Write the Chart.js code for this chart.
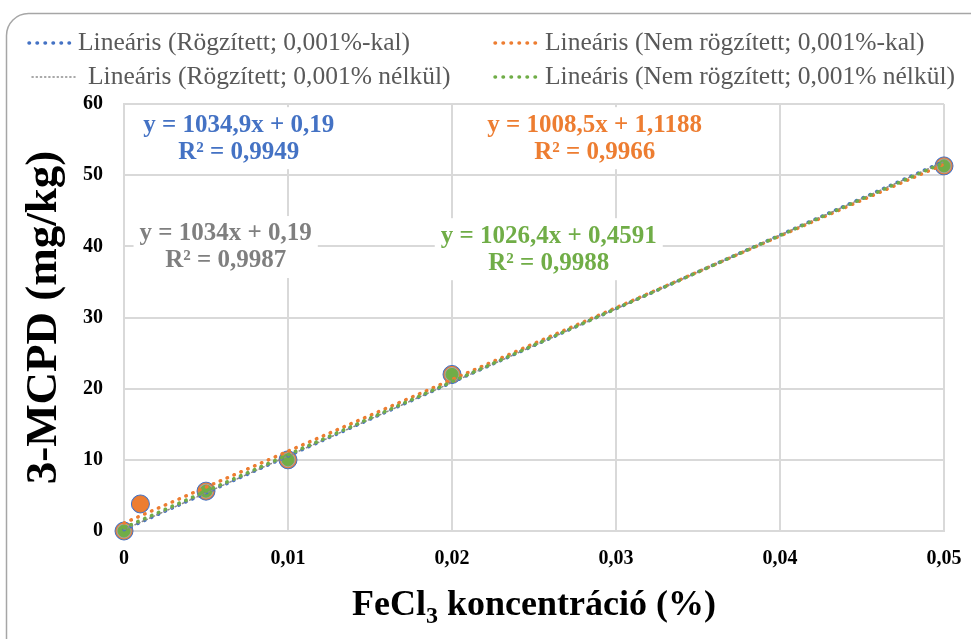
<!DOCTYPE html>
<html>
<head>
<meta charset="utf-8">
<script src="https://cdn.jsdelivr.net/npm/chart.js@4.4.1/dist/chart.umd.min.js"></script>
<style>
  html, body { margin: 0; padding: 0; background: #fff; }
  #wrap { width: 971px; height: 639px; position: relative; }
</style>
</head>
<body>
<div id="wrap"><canvas id="myChart" width="971" height="639"></canvas></div>
<script>
// measured points (FeCl3 %, 3-MCPD mg/kg)
var xWith = [0, 0.001, 0.005, 0.01, 0.02, 0.05];
var yWith = [0.0, 3.8, 5.6, 10.0, 22.0, 51.3];
var xWithout = [0, 0.005, 0.01, 0.02, 0.05];
var yWithout = [0.0, 5.6, 10.0, 22.0, 51.3];

// trendlines
var trendNames = [
  "Lineáris (Rögzített; 0,001%-kal)",
  "Lineáris (Nem rögzített; 0,001%-kal)",
  "Lineáris (Rögzített; 0,001% nélkül)",
  "Lineáris (Nem rögzített; 0,001% nélkül)"
];
var slopes = [1034.9, 1008.5, 1034, 1026.4];
var intercepts = [0.19, 1.1188, 0.19, 0.4591];
var rSquared = ["0,9949", "0,9966", "0,9987", "0,9988"];
var trendColors = ["#4472c4", "#ed7d31", "#8c8c8c", "#70ad47"];
var textColors = ["#4472c4", "#ed7d31", "#7f7f7f", "#70ad47"];

var xTicks = [0, 0.01, 0.02, 0.03, 0.04, 0.05];
var yTicks = [0, 10, 20, 30, 40, 50, 60];

// where each equation box sits, in axis units
var labelPos = [
  {x: 0.0070, y: 55.2},
  {x: 0.0287, y: 55.2},
  {x: 0.0062, y: 39.9},
  {x: 0.0259, y: 39.6}
];

function fmt(v) {
  if (v === 0) return "0";
  return v.toFixed(2).replace(".", ",");
}
function eqText(i) {
  var s = String(slopes[i]).replace(".", ",");
  var b = String(intercepts[i]).replace(".", ",");
  return "y = " + s + "x + " + b;
}
function pts(xs, ys) {
  return xs.map(function (x, i) { return {x: x, y: ys[i]}; });
}
function trend(i) {
  var x0 = xTicks[0], x1 = xTicks[xTicks.length - 1];
  return [{x: x0, y: slopes[i] * x0 + intercepts[i]}, {x: x1, y: slopes[i] * x1 + intercepts[i]}];
}

var serif = "'Liberation Serif', 'Times New Roman', serif";

var trendStyle = [
  {w: 3.5, dash: [0.5, 7]},
  {w: 3.5, dash: [0.5, 7]},
  {w: 1.5, dash: [1.5, 2.5]},
  {w: 3.5, dash: [0.5, 7]}
];

var datasets = [];
// trendlines on top, green first
[3, 2, 1, 0].forEach(function (i, k) {
  datasets.push({
    label: trendNames[i],
    data: trend(i),
    showLine: true,
    borderColor: trendColors[i],
    borderWidth: trendStyle[i].w,
    borderDash: trendStyle[i].dash,
    borderCapStyle: "round",
    pointRadius: 0,
    clip: false,
    order: k
  });
});
// markers
var markerDefs = [
  {data: pts(xWith, yWith), r: 9, color: "#4472c4", order: 7},
  {data: pts(xWith, yWith), r: 8, color: "#ed7d31", order: 6},
  {data: pts(xWithout, yWithout), r: 7, color: "#a5a5a5", order: 5},
  {data: pts(xWithout, yWithout), r: 6, color: "#70ad47", order: 4}
];
markerDefs.forEach(function (m) {
  datasets.push({
    data: m.data,
    showLine: false,
    pointRadius: m.r,
    pointBackgroundColor: m.color,
    pointBorderColor: m.color,
    pointBorderWidth: 1,
    clip: false,
    order: m.order
  });
});

var decorPlugin = {
  id: "decor",
  beforeDraw: function (chart) {
    var ctx = chart.ctx;
    ctx.save();
    ctx.fillStyle = "#fff";
    ctx.fillRect(0, 0, chart.width, chart.height);
    ctx.strokeStyle = "#a6a6a6";
    ctx.lineWidth = 1.5;
    ctx.beginPath();
    ctx.roundRect(6.5, 13.5, 990, 660, 22);
    ctx.stroke();
    ctx.restore();
  },
  afterDraw: function (chart) {
    var ctx = chart.ctx;
    var xs = chart.scales.x, ys = chart.scales.y;
    ctx.save();

    // legend, two columns
    var samples = [[27, 72], [493, 540], [30, 75], [493, 540]];
    var textX = [78, 545, 88, 545];
    var rows = [43, 77];
    for (var i = 0; i < 4; i++) {
      var ly = rows[Math.floor(i / 2)];
      ctx.strokeStyle = trendColors[i];
      ctx.lineWidth = i === 2 ? 1.5 : 3.5;
      ctx.setLineDash(i === 2 ? [1.2, 3] : [0.5, 7.5]);
      ctx.lineCap = "round";
      ctx.beginPath();
      ctx.moveTo(samples[i][0] + 2, ly);
      ctx.lineTo(samples[i][1], ly);
      ctx.stroke();
      ctx.setLineDash([]);
      ctx.fillStyle = "#595959";
      ctx.font = "25.5px " + serif;
      ctx.textAlign = "left";
      ctx.textBaseline = "middle";
      ctx.fillText(trendNames[i], textX[i], ly);
    }

    // equation boxes
    ctx.font = "bold 25px " + serif;
    ctx.textAlign = "center";
    for (var j = 0; j < 4; j++) {
      var cx = xs.getPixelForValue(labelPos[j].x);
      var cy = ys.getPixelForValue(labelPos[j].y);
      var l1 = eqText(j), l2 = "R² = " + rSquared[j];
      var w = Math.max(ctx.measureText(l1).width, ctx.measureText(l2).width) + 12;
      ctx.fillStyle = "#fff";
      ctx.fillRect(cx - w / 2, cy - 31, w, 62);
      ctx.fillStyle = textColors[j];
      ctx.fillText(l1, cx, cy - 13);
      ctx.fillText(l2, cx, cy + 14);
    }

    // axis titles
    ctx.fillStyle = "#000";
    ctx.save();
    ctx.translate(44, (chart.chartArea.top + chart.chartArea.bottom) / 2);
    ctx.rotate(-Math.PI / 2);
    ctx.font = "bold 45px " + serif;
    ctx.textAlign = "center";
    ctx.textBaseline = "middle";
    ctx.fillText("3-MCPD (mg/kg)", 0, 0);
    ctx.restore();

    var big = "bold 36px " + serif, small = "bold 24px " + serif;
    var p1 = "FeCl", p2 = "3", p3 = " koncentráció (%)";
    ctx.font = big;
    var w1 = ctx.measureText(p1).width, w3 = ctx.measureText(p3).width;
    ctx.font = small;
    var w2 = ctx.measureText(p2).width;
    var tx = (chart.chartArea.left + chart.chartArea.right) / 2 - (w1 + w2 + w3) / 2;
    var ty = 615;
    ctx.textAlign = "left";
    ctx.textBaseline = "alphabetic";
    ctx.font = big;
    ctx.fillText(p1, tx, ty);
    ctx.font = small;
    ctx.fillText(p2, tx + w1, ty + 8);
    ctx.font = big;
    ctx.fillText(p3, tx + w1 + w2, ty);
    ctx.restore();
  }
};

function build() {
  new Chart("myChart", {
    type: "scatter",
    data: { datasets: datasets },
    options: {
      responsive: false,
      animation: false,
      layout: { padding: { top: 104, right: 27, bottom: 0, left: 0 } },
      plugins: {
        legend: { display: false },
        tooltip: { enabled: false }
      },
      scales: {
        x: {
          type: "linear",
          min: xTicks[0],
          max: xTicks[xTicks.length - 1],
          afterBuildTicks: function (scale) {
            scale.ticks = xTicks.map(function (v) { return {value: v}; });
          },
          afterFit: function (scale) {
            scale.height = 108;
            scale.paddingLeft = 0;
            scale.paddingRight = 0;
          },
          grid: { color: "#d9d9d9", lineWidth: 2, drawTicks: false },
          border: { color: "#d9d9d9", width: 2 },
          ticks: {
            padding: 16,
            color: "#000",
            font: { family: serif, size: 20, weight: "bold" },
            callback: function (v) { return fmt(v); }
          }
        },
        y: {
          min: yTicks[0],
          max: yTicks[yTicks.length - 1],
          afterBuildTicks: function (scale) {
            scale.ticks = yTicks.map(function (v) { return {value: v}; });
          },
          afterFit: function (scale) {
            scale.width = 124;
            scale.paddingTop = 0;
            scale.paddingBottom = 0;
          },
          grid: { color: "#d9d9d9", lineWidth: 2, drawTicks: false },
          border: { color: "#d9d9d9", width: 2 },
          ticks: {
            padding: 21,
            color: "#000",
            font: { family: serif, size: 20, weight: "bold" }
          }
        }
      }
    },
    plugins: [decorPlugin]
  });
}

Promise.all([
  document.fonts.load("24px 'Liberation Serif'"),
  document.fonts.load("bold 24px 'Liberation Serif'")
]).then(build, build);
</script>
</body>
</html>
